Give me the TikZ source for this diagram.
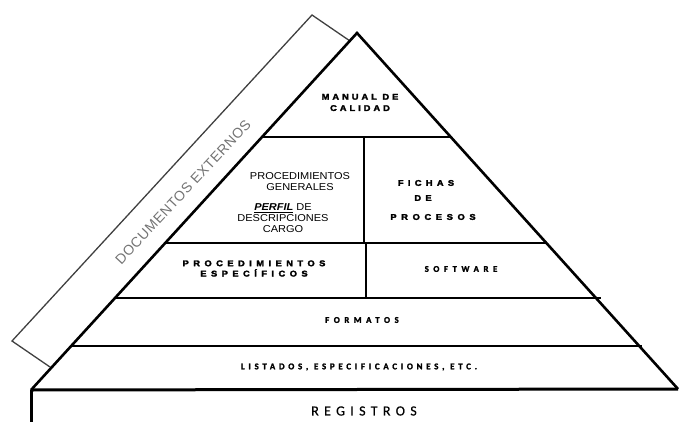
\documentclass[tikz,border=0pt]{standalone}
\usepackage{fontspec}
\setmainfont{Liberation Sans}
\newfontfamily\calfam{Carlito}
\newfontfamily\arl[FakeStretch=1.1]{Liberation Sans}
\newfontfamily\wide[FakeStretch=1.12]{Liberation Sans}
\newcommand\trk[3]{\fontsize{#1}{#1}\selectfont\addfontfeature{LetterSpace=#2,FakeBold=#3}}
\begin{document}
\begin{tikzpicture}[x=1pt,y=-1pt,
  edge/.style={line width=2.6pt, line join=miter},
  sep/.style={line width=1.5pt},
  band/.style={line width=1.3pt, draw=black!75, line join=miter},
  lbl/.style={inner sep=0pt, align=center}]
\useasboundingbox (0,0) rectangle (679,422);
% main corners
\coordinate (A) at (357,33);
\coordinate (L) at (31,390);
\coordinate (R) at (678,389);
\coordinate (Ldown) at (31,425);
% band
\coordinate (B1) at (312,15);
\coordinate (B2) at (350,41);
\coordinate (B3) at (12,341);
\coordinate (B4) at (50,367);
% level lines
\coordinate (l1a) at (262,137); \coordinate (l1b) at (451,137);
\coordinate (l2a) at (165,243); \coordinate (l2b) at (546,243);
\coordinate (l3a) at (115,298); \coordinate (l3b) at (601,298);
\coordinate (l4a) at (71,346);  \coordinate (l4b) at (642,346);
\coordinate (v1a) at (364,137); \coordinate (v1b) at (364,243);
\coordinate (v2a) at (366,243); \coordinate (v2b) at (366,298);

\draw[band] (B2) -- (B1) -- (B3) -- (B4);
\draw[sep] (l1a) -- (l1b);
\draw[sep] (l2a) -- (l2b);
\draw[sep] (l3a) -- (l3b);
\draw[sep] (l4a) -- (l4b);
\draw[sep] (v1a) -- (v1b);
\draw[sep] (v2a) -- (v2b);
\draw[edge] (L) -- (A) -- (R);
\draw[line width=3pt] (L) -- (R);
\draw[line width=3pt] (L) -- (Ldown);

% texts
\node[lbl, font=\wide\bfseries\trk{8.3}{36}{3}, text height=6pt] (manual) at (360,108)
  {MANUAL DE\\[3pt]CALIDAD};
\node[lbl, font=\arl\fontsize{10}{11}\selectfont] (pg) at (300,181.5)
  {PROCEDIMIENTOS\\GENERALES};
\node[lbl, font=\arl\fontsize{10}{11}\selectfont] (perfil) at (283,218)
  {\underline{\textbf{\textit{PERFIL}}} DE\\DESCRIPCIONES\\CARGO};
\node[lbl, font=\wide\bfseries\trk{8.3}{52}{3}] (fichas) at (426,183) {FICHAS};
\node[lbl, font=\wide\bfseries\trk{8.3}{52}{3}] (de) at (423,198) {DE};
\node[lbl, font=\wide\bfseries\trk{8.3}{56}{3}] (procesos) at (433,217) {PROCESOS};
\node[lbl, font=\wide\bfseries\trk{8.3}{54}{3}] (pe) at (254,268.5)
  {PROCEDIMIENTOS\\[2pt]ESPECÍFICOS};
\node[lbl, font=\calfam\bfseries\trk{8.8}{52}{2}] (soft) at (461,269) {SOFTWARE};
\node[lbl, font=\calfam\bfseries\trk{8.8}{52}{2}] (form) at (362,320) {FORMATOS};
\node[lbl, font=\calfam\bfseries\trk{8.8}{43}{2}] (list) at (359,367)
  {LISTADOS, ESPECIFICACIONES, ETC.};
\node[lbl, font=\calfam\trk{14}{38}{0.3}] (reg) at (364,411) {REGISTROS};
\node[lbl, font=\fontsize{14}{14}\selectfont\addfontfeature{LetterSpace=4}, text=black!55, rotate=47] (doc) at (183,192)
  {DOCUMENTOS EXTERNOS};
\end{tikzpicture}
\end{document}
